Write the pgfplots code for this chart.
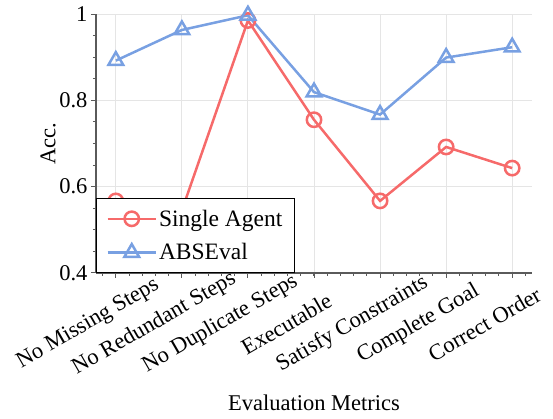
\documentclass[border=0pt]{standalone}
\usepackage{fontspec}
\setmainfont{Liberation Serif}
\usepackage{pgfplots}
\pgfplotsset{compat=1.18}
\definecolor{sared}{RGB}{246,106,106}
\definecolor{abblue}{RGB}{120,160,226}
\definecolor{axgray}{RGB}{90,90,90}
\newcommand{\bigf}{\fontsize{22.5}{27}\selectfont}
\begin{document}
\begin{tikzpicture}
\begin{axis}[
  scale only axis, width=436pt, height=259pt,
  xmin=-0.3, xmax=6.3, ymin=0.4, ymax=1,
  axis x line*=bottom, axis y line*=left,
  axis line style={axgray, line width=1.5pt},
  xtick={0,...,6}, minor xtick={-0.2,0,0.2,...,6.2},
  xticklabels={No Missing Steps,No Redundant Steps,No Duplicate Steps,Executable,Satisfy Constraints,Complete Goal,Correct Order},
  ytick={0.4,0.6,0.8,1}, yticklabels={0.4,0.6,0.8,1},
  minor ytick={0.45,0.5,...,0.95},
  tick align=outside, major tick length=5pt, minor tick length=3pt,
  tick style={axgray, line width=1pt},
  grid=major, major grid style={gray!20, line width=1pt},
  /pgf/number format/assume math mode=true,
  tick label style={font=\bigf},
  xticklabel style={rotate=30, anchor=center, xshift=-47pt, yshift=-26pt},
  xlabel={Evaluation Metrics}, ylabel={Acc.},
  every axis x label/.style={at={(axis description cs:0.5,-0.502)}, anchor=center, font=\bigf},
  every axis y label/.style={at={(axis description cs:-0.11,0.5)}, rotate=90, anchor=center, font=\bigf},
  legend style={at={(0,0)}, anchor=south west, draw=black, line width=1pt, fill=white,
    font=\fontsize{23.5}{28}\selectfont, inner xsep=10pt, inner ysep=9pt, row sep=12pt,
    /tikz/every even column/.append style={column sep=9pt}},
  legend cell align=left,
  legend image code/.code={\draw[mark repeat=2,mark phase=2] plot coordinates {(0pt,0pt) (24pt,0pt) (48pt,0pt)};},
]
\addplot[sared, line width=2.5pt, mark=o, mark size=7.2pt, mark options={fill=white, line width=2.5pt}]
  coordinates {(0,0.567) (1,0.545) (2,0.985) (3,0.755) (4,0.567) (5,0.692) (6,0.643)};
\addlegendentry{Single Agent}
\addplot[abblue, line width=2.5pt, mark=triangle, mark size=8.5pt, mark options={fill=white, line width=2.5pt}]
  coordinates {(0,0.892) (1,0.963) (2,0.997) (3,0.819) (4,0.767) (5,0.899) (6,0.923)};
\addlegendentry{ABSEval}
\end{axis}
\pgfresetboundingbox
\path (-96pt,-146pt) rectangle (457pt,273pt);
\end{tikzpicture}
\end{document}
